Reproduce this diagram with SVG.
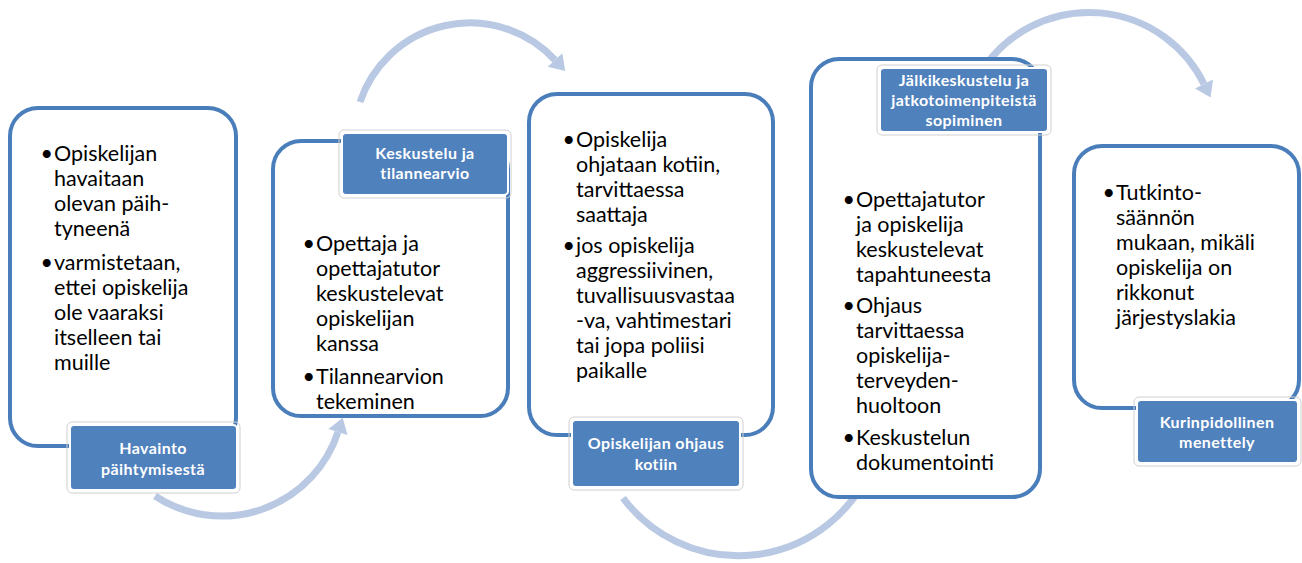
<svg xmlns="http://www.w3.org/2000/svg" width="1302" height="563" viewBox="0 0 1302 563">
<style>
.box{fill:#ffffff;stroke:#4A7EBB;stroke-width:4}
.lab{fill:#4F81BD;stroke:#ffffff;stroke-width:2}
.labsh{fill:none;stroke:#d0d0d0;stroke-width:1}
.lt{font-family:Lato,"Liberation Sans",sans-serif;font-weight:bold;font-size:16px;letter-spacing:0.4px;fill:#ffffff;text-anchor:middle}
.bt{font-family:Lato,"Liberation Sans",sans-serif;font-size:21.5px;fill:#000000}
.bu{font-family:Lato,"Liberation Sans",sans-serif;font-size:21.5px;fill:#000000;text-anchor:end}
.arc{fill:none;stroke:#B9C9E3;stroke-width:7}
</style>
<defs>
<marker id="ah" markerUnits="userSpaceOnUse" markerWidth="20" markerHeight="24" refX="0" refY="10" orient="auto" viewBox="0 -2 16 24">
<path d="M0,0 L15,10 L0,20 z" fill="#B9C9E3"/>
</marker>
</defs>
<g id="connectors">
<path class="arc" d="M155,496 A122,122 0 0 0 338,432" marker-end="url(#ah)"/>
<path class="arc" d="M360,102 A116,116 0 0 1 555,60" marker-end="url(#ah)"/>
<path class="arc" d="M623,498 A144,144 0 0 0 870,470"/>
<path class="arc" d="M985,66 A128,128 0 0 1 1204,84" marker-end="url(#ah)"/>
</g>
<g id="node1">
<rect class="box" x="10" y="108" width="226" height="338" rx="28"/>
<text class="bu" x="53" y="161">•</text>
<text class="bt" x="54" y="161">Opiskelijan</text>
<text class="bt" x="54" y="186">havaitaan</text>
<text class="bt" x="54" y="211">olevan päih-</text>
<text class="bt" x="54" y="236">tyneenä</text>
<text class="bu" x="53" y="270">•</text>
<text class="bt" x="54" y="270">varmistetaan,</text>
<text class="bt" x="54" y="295">ettei opiskelija</text>
<text class="bt" x="54" y="320">ole vaaraksi</text>
<text class="bt" x="54" y="345">itselleen  tai</text>
<text class="bt" x="54" y="370">muille</text>
<rect class="labsh" x="67" y="422" width="173" height="71" rx="5"/>
<rect class="lab" x="70" y="425" width="167" height="65" rx="4"/>
<text class="lt" x="153" y="454">Havainto</text>
<text class="lt" x="153" y="475">päihtymisestä</text>
</g>
<g id="node2">
<rect class="box" x="273" y="141" width="235" height="275" rx="28"/>
<rect class="labsh" x="339" y="130" width="172" height="68" rx="5"/>
<rect class="lab" x="342" y="133" width="166" height="62" rx="4"/>
<text class="lt" x="425" y="159">Keskustelu ja</text>
<text class="lt" x="425" y="179">tilannearvio</text>
<text class="bu" x="315" y="251">•</text>
<text class="bt" x="316" y="251">Opettaja ja</text>
<text class="bt" x="316" y="276">opettajatutor</text>
<text class="bt" x="316" y="301">keskustelevat</text>
<text class="bt" x="316" y="326">opiskelijan</text>
<text class="bt" x="316" y="351">kanssa</text>
<text class="bu" x="315" y="384">•</text>
<text class="bt" x="316" y="384">Tilannearvion</text>
<text class="bt" x="316" y="409">tekeminen</text>
</g>
<g id="node3">
<rect class="box" x="529" y="94" width="244" height="341" rx="28"/>
<text class="bu" x="575" y="147">•</text>
<text class="bt" x="576" y="147">Opiskelija</text>
<text class="bt" x="576" y="172">ohjataan kotiin,</text>
<text class="bt" x="576" y="197">tarvittaessa</text>
<text class="bt" x="576" y="222">saattaja</text>
<text class="bu" x="575" y="253">•</text>
<text class="bt" x="576" y="253">jos opiskelija</text>
<text class="bt" x="576" y="278">aggressiivinen,</text>
<text class="bt" x="576" y="303">tuvallisuusvastaa</text>
<text class="bt" x="576" y="328">-va, vahtimestari</text>
<text class="bt" x="576" y="353">tai jopa poliisi</text>
<text class="bt" x="576" y="378">paikalle</text>
<rect class="labsh" x="569" y="417" width="174" height="73" rx="5"/>
<rect class="lab" x="572" y="420" width="168" height="67" rx="4"/>
<text class="lt" x="656" y="449">Opiskelijan ohjaus</text>
<text class="lt" x="656" y="470">kotiin</text>
</g>
<g id="node4">
<rect class="box" x="811" y="59" width="229" height="438" rx="28"/>
<rect class="labsh" x="877" y="65" width="174" height="70" rx="5"/>
<rect class="lab" x="880" y="68" width="168" height="64" rx="4"/>
<text class="lt" x="964" y="86">Jälkikeskustelu ja</text>
<text class="lt" x="964" y="106">jatkotoimenpiteistä</text>
<text class="lt" x="964" y="126">sopiminen</text>
<text class="bu" x="855" y="207">•</text>
<text class="bt" x="856" y="207">Opettajatutor</text>
<text class="bt" x="856" y="232">ja opiskelija</text>
<text class="bt" x="856" y="257">keskustelevat</text>
<text class="bt" x="856" y="282">tapahtuneesta</text>
<text class="bu" x="855" y="313">•</text>
<text class="bt" x="856" y="313">Ohjaus</text>
<text class="bt" x="856" y="338">tarvittaessa</text>
<text class="bt" x="856" y="363">opiskelija-</text>
<text class="bt" x="856" y="388">terveyden-</text>
<text class="bt" x="856" y="413">huoltoon</text>
<text class="bu" x="855" y="445">•</text>
<text class="bt" x="856" y="445">Keskustelun</text>
<text class="bt" x="856" y="470">dokumentointi</text>
</g>
<g id="node5">
<rect class="box" x="1074" y="146" width="225" height="262" rx="28"/>
<text class="bu" x="1115" y="200">•</text>
<text class="bt" x="1116" y="200">Tutkinto-</text>
<text class="bt" x="1116" y="225">säännön</text>
<text class="bt" x="1116" y="250">mukaan, mikäli</text>
<text class="bt" x="1116" y="275">opiskelija on</text>
<text class="bt" x="1116" y="300">rikkonut</text>
<text class="bt" x="1116" y="325">järjestyslakia</text>
<rect class="labsh" x="1134" y="397" width="167" height="69" rx="5"/>
<rect class="lab" x="1137" y="400" width="161" height="63" rx="4"/>
<text class="lt" x="1217" y="428">Kurinpidollinen</text>
<text class="lt" x="1217" y="448">menettely</text>
</g>
</svg>
